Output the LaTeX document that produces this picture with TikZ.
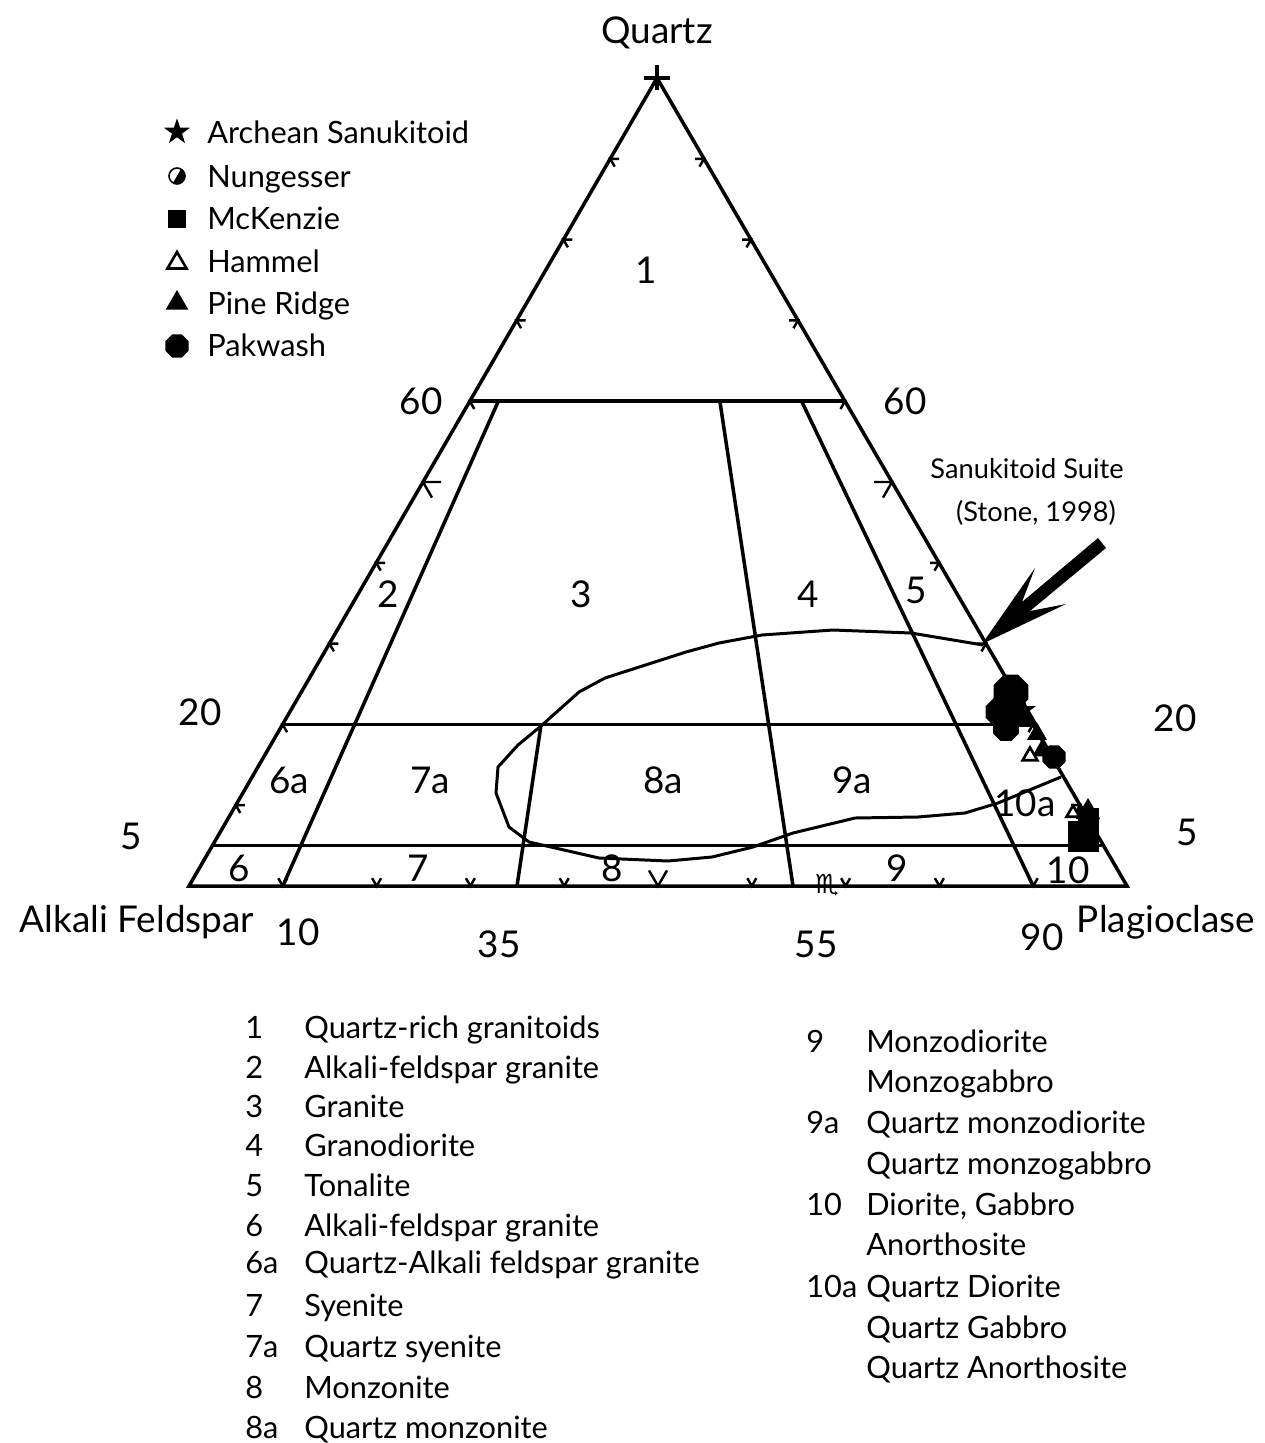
\documentclass[tikz,border=0pt]{standalone}
\usepackage{fontspec}
\setmainfont{Lato}
\newfontfamily\symfont{DejaVu Sans}
\usetikzlibrary{calc,shapes.geometric}
\tikzset{
    edge/.style={line width=2pt},
    thin edge/.style={line width=1.4pt},
    envelope/.style={line width=1.7pt, line join=round},
    lbl/.style={font=\fontsize{21}{24}\selectfont, inner sep=0pt},
    key/.style={font=\fontsize{17.5}{20}\selectfont, inner sep=0pt, anchor=base west, yshift=-6.2pt},
    note/.style={font=\fontsize{15.5}{18}\selectfont, inner sep=0pt, anchor=base},
    octa/.style={regular polygon, regular polygon sides=8, fill, inner sep=0pt, minimum size=#1},
    tri/.style={regular polygon, regular polygon sides=3, fill, inner sep=0pt, minimum size=#1},
    opentri/.style={regular polygon, regular polygon sides=3, draw, fill=white, line width=1.5pt, inner sep=0pt, minimum size=#1},
    sq/.style={rectangle, fill, inner sep=0pt, minimum size=#1},
    starmark/.style={star, star points=5, star point ratio=2.6, fill, inner sep=0pt, minimum size=#1},
    lefttick/.pic={\draw[thin edge] (9,0) -- (0,0) -- (4.5,7.8);},
    righttick/.pic={\draw[thin edge] (-9,0) -- (0,0) -- (-4.5,7.8);},
    basetick/.pic={\draw[thin edge] (-4.5,-7.8) -- (0,0) -- (4.5,-7.8);},
}

\begin{document}
\begin{tikzpicture}[x=0.02cm, y=-0.02cm]
    \useasboundingbox (0,0) rectangle (1264,1443);
    % corners
    \coordinate (A) at (189,886);
    \coordinate (P) at (1127,886);
    \coordinate (Q) at (657,78);
    \draw[edge, line join=miter] (A) -- (P) -- (Q) -- cycle;
    \draw[edge] (644,78) -- (670,78) (657,65) -- (657,90);

    % field boundaries
    \coordinate (l60) at ($(A)!.6!(Q)$);
    \coordinate (r60) at ($(P)!.6!(Q)$);
    \coordinate (l20) at ($(A)!.2!(Q)$);
    \coordinate (r20) at ($(P)!.2!(Q)$);
    \coordinate (l5) at ($(A)!.05!(Q)$);
    \coordinate (r5) at ($(P)!.05!(Q)$);
    \coordinate (b10) at ($(A)!.1!(P)$);
    \coordinate (b35) at (517,886);
    \coordinate (b65) at (793,886);
    \coordinate (b90) at ($(A)!.9!(P)$);
    \draw[edge] (l60) -- (r60) (l20) -- (r20) (l5) -- (r5);
    \draw[edge] (b10) -- (498,402);
    \draw[edge] (b35) -- (541,725);
    \draw[edge] (b65) -- (720,402);
    \draw[edge] (b90) -- (802,402);

    % ticks
    \foreach \t in {.1,.2,.3,.4,.6,.7,.8,.9} {
        \pic at ($(A)!\t!(Q)$) {lefttick};
        \pic at ($(P)!\t!(Q)$) {righttick};
        \pic at ($(A)!\t!(P)$) {basetick};
    }
    \pic[scale=2] at ($(A)!.5!(Q)$) {lefttick};
    \pic[scale=2] at ($(P)!.5!(Q)$) {righttick};
    \pic[scale=2] at ($(A)!.5!(P)$) {basetick};

    % Sanukitoid suite field
    \draw[envelope] (983,645) -- (911,633) -- (833,630) -- (762,635) -- (719,643)
        -- (686,652) -- (605,678) -- (579,692) -- (541,726) -- (518,745)
        -- (498,767) -- (496,793) -- (509,827) -- (529,842) -- (599,858)
        -- (668,861) -- (712,857) -- (753,847) -- (793,833) -- (855,818)
        -- (918,817) -- (965,813) -- (998,803) -- (1061,777);

    % samples
    \node[octa=0.75cm] (pk1) at (1011,692) {};
    \node[octa=0.62cm] (pk2) at (1000,712) {};
    \node[octa=0.58cm] (pk5) at (1012,714) {};
    \node[octa=0.56cm] (pk3) at (1006,728) {};
    \node[octa=0.50cm] (pk4) at (1054,757) {};
    \node[starmark=0.5cm] (as1) at (1024,710) {};
    \node[tri=0.46cm] (pr1) at (1029,721) {};
    \node[tri=0.46cm] (pr2) at (1037,734) {};
    \node[tri=0.50cm] (pr3) at (1043,750) {};
    \node[opentri=0.34cm] (hm1) at (1030,756) {};
    \node[sq=0.62cm] (mk1) at (1083,836) {};
    \node[sq=0.42cm] (mk2) at (1088,818) {};
    \node[tri=0.56cm] (pr4) at (1088,812) {};
    \node[opentri=0.30cm] (hm2) at (1073,813) {};

    % arrow to the field
    \fill (982,644) -- (1035,568) -- (1022,602) -- (1098,538) -- (1106,548)
        -- (1030,611) -- (1066,604) -- cycle;
    \node[note] (suite) at (1027,478) {Sanukitoid Suite};
    \node[note] (stone) at (1036,521) {(Stone, 1998)};

    % corner and axis labels
    \node[lbl] (quartz) at (657,33) {Quartz};
    \node[lbl, anchor=base] (alkali) at (137,932) {Alkali Feldspar};
    \node[lbl, anchor=base] (plag) at (1166,932) {Plagioclase};
    \node[lbl] (q60l) at (421,401) {60};
    \node[lbl] (q60r) at (905,401) {60};
    \node[lbl] (q20l) at (200,712) {20};
    \node[lbl] (q20r) at (1175,718) {20};
    \node[lbl] (q5l) at (131,836) {5};
    \node[lbl] (q5r) at (1187,832) {5};
    \node[lbl] (p10) at (298,932) {10};
    \node[lbl] (p35) at (499,944) {35};
    \node[lbl] (p55) at (816,944) {55};
    \node[lbl] (p90) at (1042,937) {90};
    \node[inner sep=0pt, font=\symfont\fontsize{15}{16}\selectfont] (odd) at (827,885) {♏};

    % field numbers
    \foreach \x/\y/\f in {646/270/1, 388/594/2, 581/594/3, 808/594/4, 916/590/5,
                          289/780/6a, 430/780/7a, 663/780/8a, 852/780/9a, 1025/803/10a,
                          239/868/6, 418/868/7, 612/868/8, 897/868/9, 1068/870/10}
        \node[lbl] (f\f) at (\x,\y) {\f};

    % key to the samples
    \node[starmark=0.55cm] (kas) at (177,132) {};
    \coordinate (kng) at (177,176);
    \fill (kng) ++(-60:8) arc[start angle=-60, end angle=120, radius=8] -- cycle;
    \draw[line width=0.9pt] (kng) circle[radius=8];
    \node[sq=0.36cm] (kmk) at (177,219) {};
    \node[opentri=0.44cm] (khm) at (177,263) {};
    \node[tri=0.52cm] (kpr) at (177,303) {};
    \node[octa=0.50cm] (kpk) at (177,346) {};
    \foreach \y/\txt in {133/Archean Sanukitoid, 177/Nungesser, 219/McKenzie,
                         262/Hammel, 304/Pine Ridge, 346/Pakwash}
        \node[key] (s\y) at (207,\y) {\txt};

    % key to the fields
    \foreach \y/\n/\txt in {1028/1/Quartz-rich granitoids, 1068/2/Alkali-feldspar granite,
                            1107/3/Granite, 1146/4/Granodiorite, 1186/5/Tonalite,
                            1226/6/Alkali-feldspar granite, 1263/6a/Quartz-Alkali feldspar granite,
                            1306/7/Syenite, 1347/7a/Quartz syenite, 1388/8/Monzonite,
                            1428/8a/Quartz monzonite} {
        \node[key] (n\y) at (245,\y) {\n};
        \node[key] (t\y) at (304,\y) {\txt};
    }
    \foreach \y/\n/\txt in {1042/9/Monzodiorite, 1082//Monzogabbro,
                            1123/9a/Quartz monzodiorite, 1164//Quartz monzogabbro,
                            1205/10/{Diorite, Gabbro}, 1245//Anorthosite,
                            1287/10a/Quartz Diorite, 1328//Quartz Gabbro,
                            1368//Quartz Anorthosite} {
        \node[key] (m\y) at (806,\y) {\n};
        \node[key] (u\y) at (866,\y) {\txt};
    }
\end{tikzpicture}
\end{document}
